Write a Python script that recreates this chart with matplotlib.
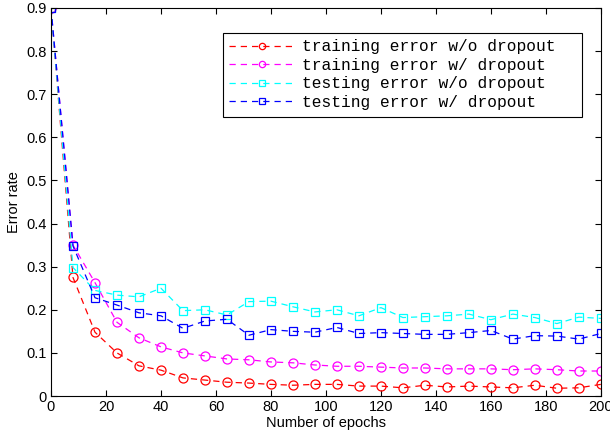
import numpy as np
import matplotlib
matplotlib.use('Agg')
import matplotlib.pyplot as plt

epochs = list(range(0, 201, 8))

train_wo = [0.9, 0.275, 0.148, 0.100, 0.070, 0.060, 0.042, 0.037, 0.032, 0.030,
            0.027, 0.025, 0.027, 0.027, 0.023, 0.023, 0.019, 0.025, 0.021, 0.023,
            0.021, 0.019, 0.025, 0.018, 0.019, 0.027]
train_w = [0.9, 0.350, 0.263, 0.171, 0.135, 0.114, 0.100, 0.093, 0.086, 0.084,
           0.079, 0.077, 0.072, 0.069, 0.069, 0.067, 0.065, 0.065, 0.063, 0.063,
           0.063, 0.061, 0.063, 0.061, 0.058, 0.058]
test_wo = [0.9, 0.298, 0.245, 0.234, 0.230, 0.250, 0.198, 0.200, 0.188, 0.219,
           0.220, 0.207, 0.195, 0.200, 0.186, 0.205, 0.182, 0.184, 0.186, 0.190,
           0.177, 0.190, 0.182, 0.168, 0.183, 0.180]
test_w = [0.9, 0.348, 0.228, 0.211, 0.193, 0.186, 0.157, 0.174, 0.178, 0.141,
          0.154, 0.150, 0.148, 0.159, 0.145, 0.147, 0.145, 0.143, 0.143, 0.147,
          0.152, 0.132, 0.140, 0.139, 0.132, 0.145]

labels = ['training error w/o dropout', 'training error w/ dropout',
          'testing error w/o dropout', 'testing error w/ dropout']

plt.rcParams['font.family'] = 'Liberation Sans'
plt.rcParams['font.size'] = 10.5

fig = plt.figure(figsize=(6.1, 4.32), dpi=100)
ax = fig.add_axes([0.0836, 0.0833, 0.9014, 0.8982])

series = [(train_wo, 'red', 'o'), (train_w, 'magenta', 'o'),
          (test_wo, 'cyan', 's'), (test_w, 'blue', 's')]
for (y, c, m), lab in zip(series, labels):
    # trailing spaces widen the box like the matlab legend
    ax.plot(epochs, y, ls='--', lw=0.9, color=c, marker=m, ms=6.5 if m == 'o' else 6,
            mfc='none', mec=c, mew=0.9, label=lab + '  ', dashes=(5, 4))

ax.set_xlim(0, 200)
ax.set_ylim(0, 0.9)
ax.set_xticks(np.arange(0, 201, 20))
ax.set_yticks(np.arange(0, 0.91, 0.1))
ax.set_yticklabels(['0', '0.1', '0.2', '0.3', '0.4', '0.5', '0.6', '0.7', '0.8', '0.9'])
ax.tick_params(direction='in', top=True, right=True, length=4, pad=3)
ax.set_xlabel('Number of epochs', labelpad=1)
ax.set_ylabel('Error rate', labelpad=4)

leg = ax.legend(loc='upper right', bbox_to_anchor=(0.98, 0.957),
                prop={'family': 'Liberation Mono', 'size': 11.7},
                fancybox=False, edgecolor='black', framealpha=1, handlelength=4.0,
                numpoints=1, markerscale=0.7, labelspacing=0.22, borderpad=0.4,
                handletextpad=0.5)
leg.get_frame().set_linewidth(0.8)

fig.savefig('out.png', dpi=100)
